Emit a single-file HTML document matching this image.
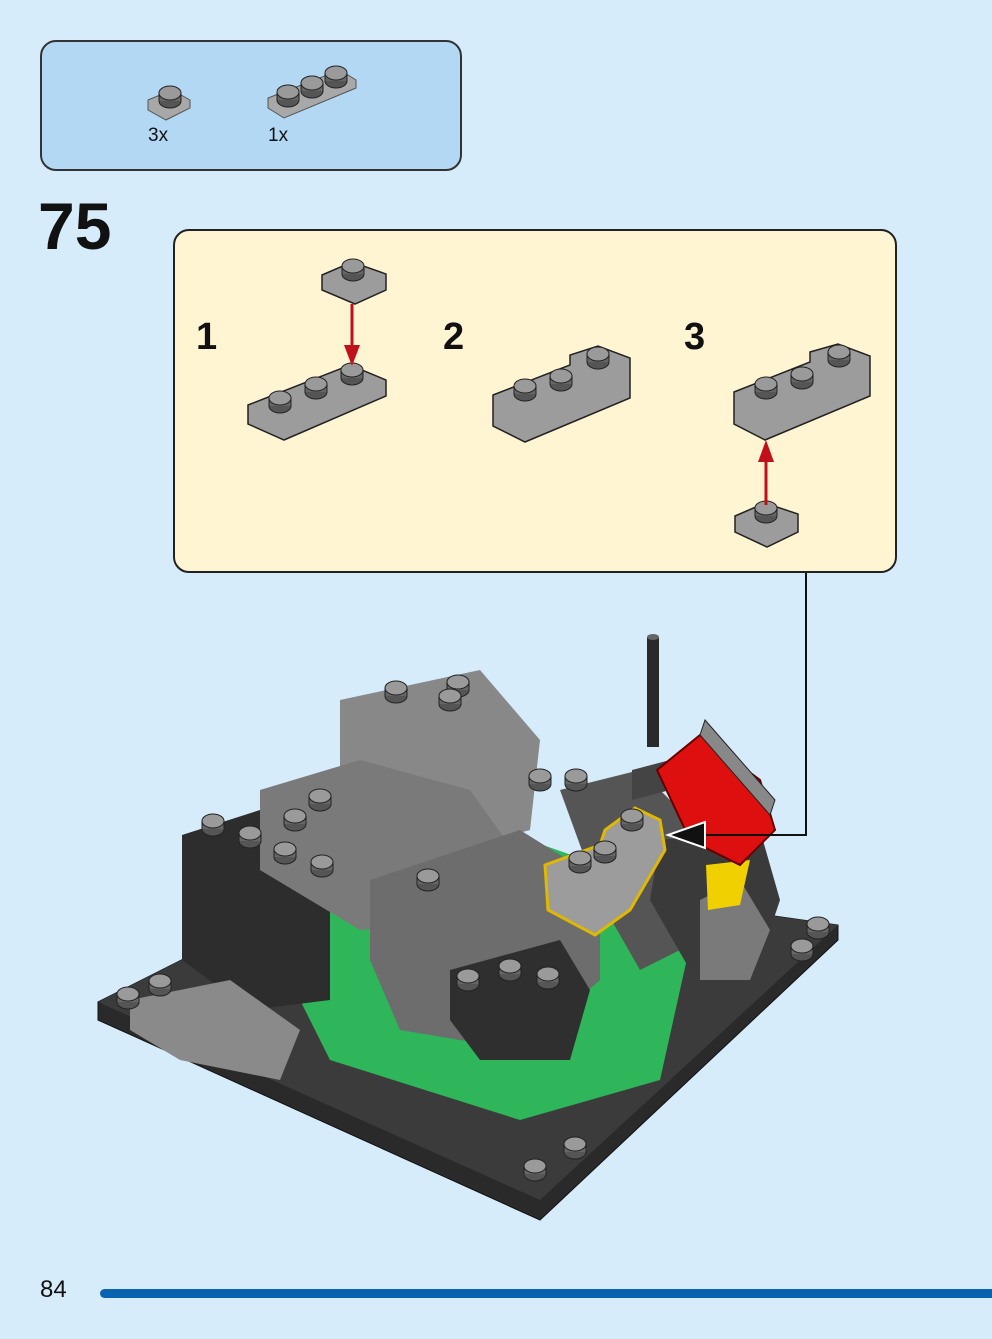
<!DOCTYPE html>
<html><head><meta charset="utf-8"><style>
html,body{margin:0;padding:0;background:#d7ecfb;}
body{width:992px;height:1339px;position:relative;overflow:hidden;font-family:"Liberation Sans",sans-serif;}
.parts{position:absolute;left:40px;top:40px;width:422px;height:131px;background:#b3d8f4;border:2px solid #333;border-radius:16px;box-sizing:border-box;}
.step{position:absolute;left:173px;top:229px;width:724px;height:344px;background:#fff5d2;border:2px solid #222;border-radius:16px;box-sizing:border-box;}
.num{position:absolute;font-size:66px;left:38px;top:188px;color:#111;font-weight:bold;}
.sn{position:absolute;font-size:38px;color:#111;font-weight:bold;}
.pn{position:absolute;left:40px;top:1276px;font-size:24px;color:#111;}
.bar{position:absolute;left:100px;top:1289px;width:892px;height:9px;background:#0a63b0;border-radius:5px 0 0 5px;}
svg{position:absolute;left:0;top:0;}
</style></head><body>
<div class="parts"></div>
<div class="num">75</div>
<div class="step"></div>
<div class="sn" style="left:196px;top:316px">1</div>
<div class="sn" style="left:443px;top:316px">2</div>
<div class="sn" style="left:684px;top:316px">3</div>
<div class="pn">84</div>
<div class="bar"></div>
<svg width="992" height="1339" viewBox="0 0 992 1339">
<defs>
<g id="stud"><ellipse cx="0" cy="4" rx="11" ry="7" fill="#555" stroke="#222"/><rect x="-11" y="-4" width="22" height="8" fill="#666"/><line x1="-11" y1="-4" x2="-11" y2="4" stroke="#222"/><line x1="11" y1="-4" x2="11" y2="4" stroke="#222"/><ellipse cx="0" cy="-4" rx="11" ry="7" fill="#9a9a9a" stroke="#222"/></g>
</defs>
<g stroke="#555" stroke-width="1">
<polygon points="148,100 172,90 190,100 190,108 166,120 148,110" fill="#a8a8a8"/>
<polygon points="268,98 340,70 356,80 356,88 284,118 268,108" fill="#a8a8a8"/>
</g>
<use href="#stud" x="170" y="97"/>
<use href="#stud" x="288" y="96"/><use href="#stud" x="312" y="87"/><use href="#stud" x="336" y="77"/>
<text x="148" y="141" font-size="19" fill="#111">3x</text>
<text x="268" y="141" font-size="19" fill="#111">1x</text>
<g stroke="#222" stroke-width="1.5">
<polygon points="322,275 352,262 386,274 386,290 355,304 322,290" fill="#9c9c9c"/>
<polygon points="248,405 350,365 386,380 386,396 284,440 248,424" fill="#9c9c9c"/>
<polygon points="493,395 570,365 570,355 598,346 630,358 630,398 525,442 493,426" fill="#9c9c9c"/>
<polygon points="734,392 810,362 810,352 838,344 870,356 870,396 765,440 734,424" fill="#9c9c9c"/>
<polygon points="735,516 765,503 798,514 798,532 767,547 735,532" fill="#9c9c9c"/>
</g>
<use href="#stud" x="353" y="270"/>
<use href="#stud" x="280" y="402"/><use href="#stud" x="316" y="388"/><use href="#stud" x="352" y="374"/>
<use href="#stud" x="525" y="390"/><use href="#stud" x="561" y="380"/><use href="#stud" x="598" y="358"/>
<use href="#stud" x="766" y="388"/><use href="#stud" x="802" y="378"/><use href="#stud" x="839" y="356"/>
<use href="#stud" x="766" y="512"/>
<line x1="352" y1="304" x2="352" y2="352" stroke="#c0101a" stroke-width="3"/>
<polygon points="344,345 360,345 352,366" fill="#c0101a"/>
<line x1="766" y1="505" x2="766" y2="455" stroke="#c0101a" stroke-width="3"/>
<polygon points="758,462 774,462 766,440" fill="#c0101a"/>
<polyline points="806,573 806,630" fill="none" stroke="#111" stroke-width="2"/>
<polygon points="98,1002 380,860 838,925 838,940 540,1220 98,1020" fill="#2a2a2a" stroke="#111"/>
<polygon points="98,1002 380,860 838,925 540,1200" fill="#3b3b3b"/>
<polygon points="250,900 500,830 700,900 660,1080 520,1120 330,1060" fill="#2fb55a"/>
<polygon points="182,835 260,810 330,850 330,1000 250,1010 182,960" fill="#2d2d2d"/>
<polygon points="340,700 480,670 540,740 530,830 420,860 340,800" fill="#888"/>
<polygon points="260,790 360,760 470,790 520,860 470,920 360,930 260,870" fill="#7a7a7a"/>
<polygon points="370,880 520,830 600,880 600,980 520,1050 400,1030 370,960" fill="#6d6d6d"/>
<polygon points="450,970 560,940 590,990 570,1060 480,1060 450,1020" fill="#2f2f2f"/>
<polygon points="560,790 640,770 700,830 700,940 640,970 600,900" fill="#555"/>
<polygon points="660,840 760,830 780,900 760,960 690,970 650,900" fill="#3a3a3a"/>
<polygon points="700,900 740,880 770,930 750,980 700,980" fill="#7a7a7a"/>
<polygon points="130,1000 230,980 300,1030 280,1080 180,1060 130,1030" fill="#8a8a8a"/>
<polygon points="706,865 750,860 740,905 708,910" fill="#f0d000"/>
<rect x="647" y="637" width="12" height="110" fill="#2a2a2a"/>
<ellipse cx="653" cy="637" rx="6" ry="3" fill="#666"/>
<polygon points="632,770 670,760 670,790 632,800" fill="#444"/>
<polygon points="657,770 700,735 760,780 775,830 740,865 690,840" fill="#dd0f0f" stroke="#600" stroke-width="2"/>
<polygon points="705,720 775,800 770,815 700,735" fill="#888" stroke="#222"/>
<polygon points="545,865 600,845 605,830 635,808 660,820 665,850 630,910 595,935 548,910" fill="#9c9c9c" stroke="#e0b800" stroke-width="3"/>
<use href="#stud" x="580" y="862"/><use href="#stud" x="605" y="852"/><use href="#stud" x="632" y="820"/>
<use href="#stud" x="396" y="692"/><use href="#stud" x="458" y="686"/><use href="#stud" x="450" y="700"/>
<use href="#stud" x="540" y="780"/><use href="#stud" x="576" y="780"/><use href="#stud" x="320" y="800"/>
<use href="#stud" x="295" y="820"/><use href="#stud" x="213" y="825"/><use href="#stud" x="250" y="837"/>
<use href="#stud" x="285" y="853"/><use href="#stud" x="322" y="866"/><use href="#stud" x="428" y="880"/>
<use href="#stud" x="510" y="970"/><use href="#stud" x="548" y="978"/><use href="#stud" x="468" y="980"/>
<use href="#stud" x="128" y="998"/><use href="#stud" x="160" y="985"/><use href="#stud" x="535" y="1170"/>
<use href="#stud" x="575" y="1148"/><use href="#stud" x="802" y="950"/><use href="#stud" x="818" y="928"/>
<polyline points="806,630 806,835 700,835" fill="none" stroke="#111" stroke-width="2"/>
<polygon points="668,835 705,822 705,848" fill="#111" stroke="#fff" stroke-width="2"/>
</svg>
</body></html>
